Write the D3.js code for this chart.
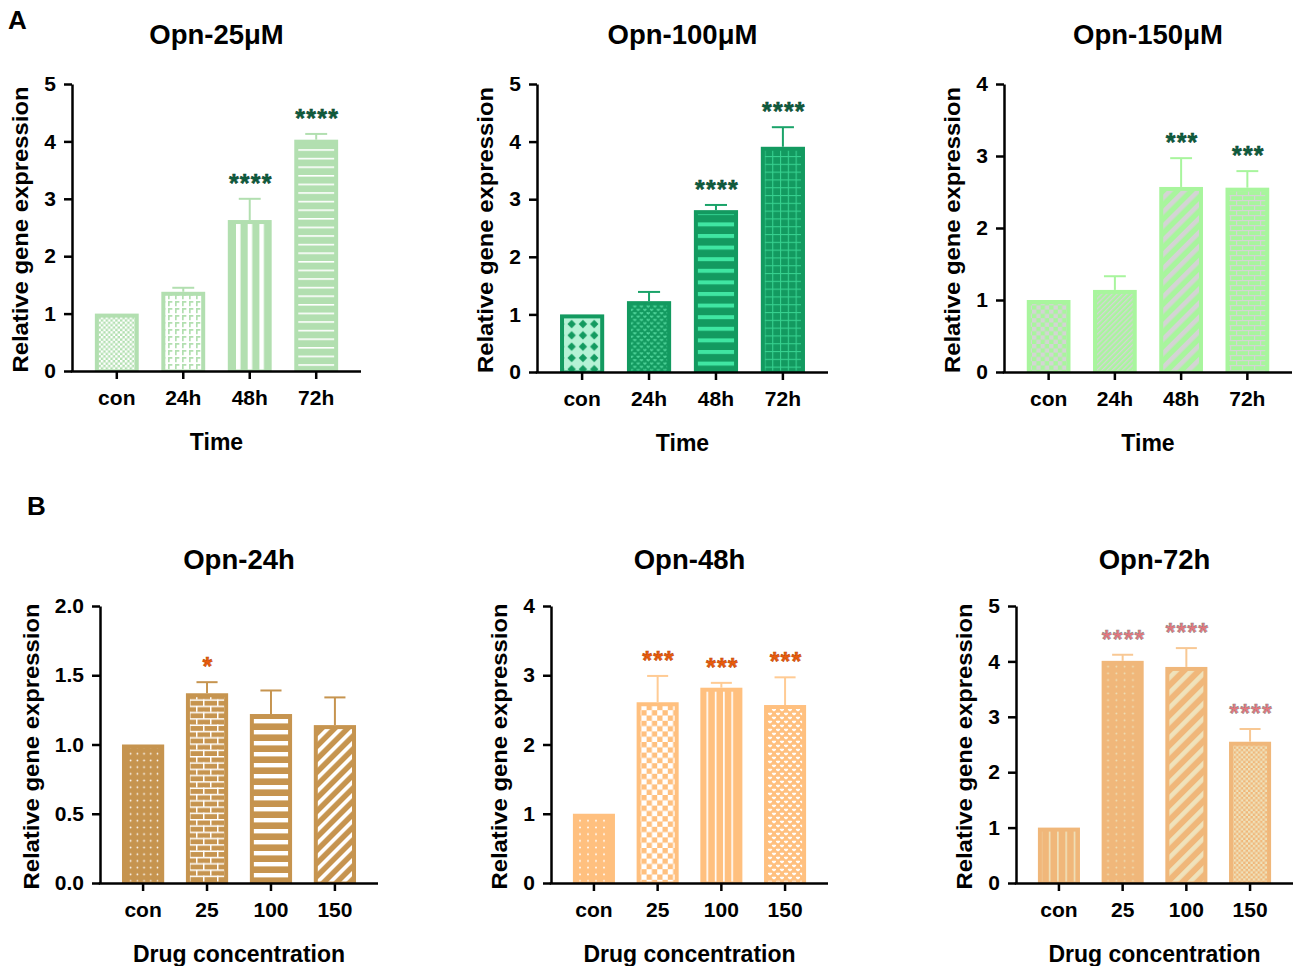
<!DOCTYPE html>
<html>
<head>
<meta charset="utf-8">
<script src="https://cdn.jsdelivr.net/npm/d3@7"></script>
<style>
  body { margin: 0; background: #fff; }
  text { font-family: "Liberation Sans", Arial, sans-serif; font-weight: bold; }
</style>
</head>
<body>
<svg id="fig" width="1296" height="966"></svg>
<script>
// ---- data -------------------------------------------------------------
const timeCats = ["con", "24h", "48h", "72h"];
const doseCats = ["con", "25", "100", "150"];

// Row A: time course at fixed dose
const opn25Mean  = [1.00, 1.38, 2.63, 4.03];
const opn25Sd    = [0, 0.07, 0.37, 0.10];
const opn25Sig   = ["", "", "****", "****"];

const opn100Mean = [1.00, 1.23, 2.81, 3.91];
const opn100Sd   = [0, 0.16, 0.09, 0.34];
const opn100Sig  = ["", "", "****", "****"];

const opn150Mean = [1.00, 1.14, 2.57, 2.56];
const opn150Sd   = [0, 0.19, 0.40, 0.23];
const opn150Sig  = ["", "", "***", "***"];

// Row B: dose response at fixed time
const opn24Mean  = [1.00, 1.37, 1.22, 1.14];
const opn24Sd    = [0, 0.08, 0.17, 0.20];
const opn24Sig   = ["", "*", "", ""];

const opn48Mean  = [1.00, 2.61, 2.82, 2.57];
const opn48Sd    = [0, 0.38, 0.07, 0.40];
const opn48Sig   = ["", "***", "***", "***"];

const opn72Mean  = [1.00, 4.01, 3.90, 2.55];
const opn72Sd    = [0, 0.11, 0.34, 0.23];
const opn72Sig   = ["", "****", "****", "****"];

const ticks5   = [0, 1, 2, 3, 4, 5];
const ticks4   = [0, 1, 2, 3, 4];
const ticks2   = [0, 0.5, 1.0, 1.5, 2.0];

const panelTitles = ["Opn-25μM", "Opn-100μM", "Opn-150μM", "Opn-24h", "Opn-48h", "Opn-72h"];
const yTitle = "Relative gene expression";
const xTitleTime = "Time";
const xTitleDose = "Drug concentration";

// ---- panel layout and styling -----------------------------------------
const panels = [
  { title: panelTitles[0], cats: timeCats, mean: opn25Mean, sd: opn25Sd, sig: opn25Sig,
    ticks: ticks5, fmt: d3.format("d"), xTitle: xTitleTime,
    x0: 72, x1: 361, yTop: 84, yBot: 371, titleY: 44,
    base: "#b2dfb0", err: "#b2dfb0", star: "#0e5e3e", starStroke: "#0a3f2a",
    pats: [
      { type: "checker", s: 2.4, fg: "#ffffff" },
      { type: "key", p: 7, fg: "#ffffff" },
      { type: "vlines", p: 11.7, t: 4.5, fg: "#ffffff", ox: 2 },
      { type: "hlines", p: 8.6, t: 1.6, fg: "#ffffff", oy: 3 }
    ] },
  { title: panelTitles[1], cats: timeCats, mean: opn100Mean, sd: opn100Sd, sig: opn100Sig,
    ticks: ticks5, fmt: d3.format("d"), xTitle: xTitleTime,
    x0: 537, x1: 828, yTop: 84, yBot: 372, titleY: 44,
    base: "#139a60", err: "#1aa369", star: "#0e5e3e", starStroke: "#0a3f2a",
    pats: [
      { type: "diamond", g: 11.3, s: 4.2, bg: "#b6f2d6", fg: "#139a60" },
      { type: "heart", p: 6.7, fg: "#4fd49a" },
      { type: "hlines", p: 11.6, t: 4, fg: "#3fe6a2", oy: 2 },
      { type: "grid", p: 7.8, t: 1.1, fg: "#36d08f" }
    ] },
  { title: panelTitles[2], cats: timeCats, mean: opn150Mean, sd: opn150Sd, sig: opn150Sig,
    ticks: ticks4, fmt: d3.format("d"), xTitle: xTitleTime,
    x0: 1004, x1: 1292, yTop: 84, yBot: 372, titleY: 44,
    base: "#a8f59d", err: "#a8f59d", star: "#0e5e3e", starStroke: "#0a3f2a",
    pats: [
      { type: "checker", s: 4.3, fg: "#d4d4d4" },
      { type: "diag", p: 3.6, t: 1.3, fg: "#d4d4d4" },
      { type: "diag", p: 10, t: 4.6, fg: "#d4d4d4" },
      { type: "brick", w: 12, h: 5, t: 1.2, fg: "#d4d4d4" }
    ] },
  { title: panelTitles[3], cats: doseCats, mean: opn24Mean, sd: opn24Sd, sig: opn24Sig,
    ticks: ticks2, fmt: d3.format(".1f"), xTitle: xTitleDose,
    x0: 100, x1: 378, yTop: 606, yBot: 883, titleY: 569,
    base: "#c6944f", err: "#c6944f", star: "#ea5b0c", starStroke: "#b84708",
    pats: [
      { type: "dots", px: 6.7, py: 6.7, r: 0.85, fg: "#ffffff" },
      { type: "brick", w: 14, h: 6.3, t: 1.5, fg: "#ffffff" },
      { type: "hlines", p: 11, t: 4.4, fg: "#ffffff", oy: 4 },
      { type: "diag", p: 9.2, t: 3.8, fg: "#ffffff" }
    ] },
  { title: panelTitles[4], cats: doseCats, mean: opn48Mean, sd: opn48Sd, sig: opn48Sig,
    ticks: ticks4, fmt: d3.format("d"), xTitle: xTitleDose,
    x0: 551, x1: 828, yTop: 606, yBot: 883, titleY: 569,
    base: "#ffc07f", err: "#ffcb94", star: "#ea5b0c", starStroke: "#b84708",
    pats: [
      { type: "dots", px: 8, py: 6.7, r: 0.95, fg: "#ffffff" },
      { type: "checker", s: 5.3, fg: "#ffffff" },
      { type: "vlines", p: 8.3, t: 1.6, fg: "#ffffff", ox: 1 },
      { type: "heart", p: 8, fg: "#ffffff" }
    ] },
  { title: panelTitles[5], cats: doseCats, mean: opn72Mean, sd: opn72Sd, sig: opn72Sig,
    ticks: ticks5, fmt: d3.format("d"), xTitle: xTitleDose,
    x0: 1016, x1: 1293, yTop: 606, yBot: 883, titleY: 569,
    base: "#f0b77a", err: "#f8c894", star: "#e8757c", starStroke: "#8a8a8a",
    pats: [
      { type: "vlines", p: 8.3, t: 1.6, fg: "#efe2bb", ox: 3 },
      { type: "dots", px: 8.3, py: 6.7, r: 0.9, fg: "#efe2bb" },
      { type: "diag", p: 10.6, t: 4.6, fg: "#efe2bb" },
      { type: "checker", s: 2.4, fg: "#efe2bb" }
    ] }
];

// ---- fill patterns ----------------------------------------------------
const svg = d3.select("#fig");
const defs = svg.append("defs");

function makePattern(id, spec, base) {
  const p = defs.append("pattern").attr("id", id).attr("patternUnits", "userSpaceOnUse");
  const bg = (w, h, c) => p.append("rect").attr("width", w).attr("height", h).attr("fill", c);
  switch (spec.type) {
    case "checker": {
      const s = spec.s;
      p.attr("width", 2 * s).attr("height", 2 * s);
      bg(2 * s, 2 * s, base);
      p.append("rect").attr("width", s).attr("height", s).attr("fill", spec.fg);
      p.append("rect").attr("x", s).attr("y", s).attr("width", s).attr("height", s).attr("fill", spec.fg);
      break;
    }
    case "hlines": {
      p.attr("width", 10).attr("height", spec.p).attr("y", spec.oy || 0);
      bg(10, spec.p, base);
      p.append("rect").attr("width", 10).attr("height", spec.t).attr("fill", spec.fg);
      break;
    }
    case "vlines": {
      p.attr("width", spec.p).attr("height", 10).attr("x", spec.ox || 0);
      bg(spec.p, 10, base);
      p.append("rect").attr("width", spec.t).attr("height", 10).attr("fill", spec.fg);
      break;
    }
    case "diag": {
      p.attr("width", 10).attr("height", spec.p).attr("patternTransform", "rotate(-45)");
      bg(10, spec.p, base);
      p.append("rect").attr("width", 10).attr("height", spec.t).attr("fill", spec.fg);
      break;
    }
    case "grid": {
      p.attr("width", spec.p).attr("height", spec.p);
      bg(spec.p, spec.p, base);
      p.append("rect").attr("width", spec.p).attr("height", spec.t).attr("fill", spec.fg);
      p.append("rect").attr("width", spec.t).attr("height", spec.p).attr("fill", spec.fg);
      break;
    }
    case "dots": {
      p.attr("width", spec.px).attr("height", spec.py);
      bg(spec.px, spec.py, base);
      p.append("circle").attr("cx", spec.px / 2).attr("cy", spec.py / 2).attr("r", spec.r).attr("fill", spec.fg);
      break;
    }
    case "brick": {
      const w = spec.w, h = spec.h, t = spec.t;
      p.attr("width", w).attr("height", 2 * h);
      bg(w, 2 * h, base);
      p.append("rect").attr("width", w).attr("height", t).attr("fill", spec.fg);
      p.append("rect").attr("y", h).attr("width", w).attr("height", t).attr("fill", spec.fg);
      p.append("rect").attr("x", 0).attr("y", 0).attr("width", t).attr("height", h).attr("fill", spec.fg);
      p.append("rect").attr("x", w / 2).attr("y", h).attr("width", t).attr("height", h).attr("fill", spec.fg);
      break;
    }
    case "diamond": {
      // square grid of diamonds on a light lattice
      const g = spec.g, s = spec.s, c = g / 2;
      p.attr("width", g).attr("height", g).attr("x", 1).attr("y", 2);
      bg(g, g, spec.bg);
      p.append("path")
        .attr("d", `M${c},${c - s} L${c + s},${c} L${c},${c + s} L${c - s},${c} Z`)
        .attr("fill", spec.fg);
      break;
    }
    case "heart": {
      const q = spec.p;
      p.attr("width", q).attr("height", q);
      bg(q, q, base);
      const heart = (cx, cy) => {
        const r = q * 0.13;
        return `M${cx},${cy + q * 0.2} L${cx - 2 * r},${cy} A${r},${r} 0 0 1 ${cx},${cy - r * 0.6}` +
               ` A${r},${r} 0 0 1 ${cx + 2 * r},${cy} Z`;
      };
      p.append("path").attr("d", heart(q * 0.25, q * 0.25)).attr("fill", spec.fg);
      p.append("path").attr("d", heart(q * 0.75, q * 0.75)).attr("fill", spec.fg);
      break;
    }
    case "key": {
      const q = spec.p;
      p.attr("width", q).attr("height", q);
      bg(q, q, spec.fg);
      p.append("path")
        .attr("d", `M0,0 h${q * 0.62} v${q * 0.24} h${-q * 0.38} v${q * 0.5} h${-q * 0.24} Z`)
        .attr("fill", base);
      break;
    }
  }
}

// ---- draw -------------------------------------------------------------
panels.forEach((pn, pi) => {
  const g = svg.append("g");
  const width = pn.x1 - pn.x0;
  const step = width * 0.23;
  const firstC = pn.x0 + width * 0.155;

  const x = d3.scaleBand()
    .domain(pn.cats)
    .range([firstC - step / 2, firstC - step / 2 + 4 * step])
    .paddingInner(0.34)
    .paddingOuter(0.17);
  const y = d3.scaleLinear()
    .domain([0, d3.max(pn.ticks)])
    .range([pn.yBot, pn.yTop]);

  pn.pats.forEach((spec, i) => makePattern(`pat-${pi}-${i}`, spec, pn.base));

  const rows = pn.cats.map((c, i) => ({ c, i, m: pn.mean[i], s: pn.sd[i], sig: pn.sig[i] }));
  const bw = x.bandwidth();
  const inset = 4;

  // bars: solid frame plus patterned interior
  g.selectAll("rect.bar").data(rows).join("rect")
    .attr("class", "bar")
    .attr("x", d => x(d.c))
    .attr("y", d => y(d.m))
    .attr("width", bw)
    .attr("height", d => y(0) - y(d.m))
    .attr("fill", pn.base);
  g.selectAll("rect.fillp").data(rows).join("rect")
    .attr("class", "fillp")
    .attr("x", d => x(d.c) + inset)
    .attr("y", d => y(d.m) + inset)
    .attr("width", bw - 2 * inset)
    .attr("height", d => Math.max(0, y(0) - y(d.m) - inset - 1.5))
    .attr("fill", d => `url(#pat-${pi}-${d.i})`);

  // error bars (upper whisker only)
  const eb = rows.filter(d => d.s > 0);
  g.selectAll("line.ev").data(eb).join("line")
    .attr("x1", d => x(d.c) + bw / 2).attr("x2", d => x(d.c) + bw / 2)
    .attr("y1", d => y(d.m)).attr("y2", d => y(d.m + d.s))
    .attr("stroke", pn.err).attr("stroke-width", 2);
  g.selectAll("line.ec").data(eb).join("line")
    .attr("x1", d => x(d.c) + bw / 4).attr("x2", d => x(d.c) + 3 * bw / 4)
    .attr("y1", d => y(d.m + d.s)).attr("y2", d => y(d.m + d.s))
    .attr("stroke", pn.err).attr("stroke-width", 2);

  // significance stars
  g.selectAll("text.sig").data(rows.filter(d => d.sig)).join("text")
    .attr("x", d => x(d.c) + bw / 2 + 1)
    .attr("y", d => y(d.m + d.s) - 21 + 14)
    .attr("text-anchor", "middle")
    .attr("font-size", 25)
    .attr("letter-spacing", 1.2)
    .attr("fill", pn.star)
    .attr("stroke", pn.starStroke)
    .attr("stroke-width", 0.5)
    .text(d => d.sig);

  // axes
  const yAx = g.append("g")
    .attr("transform", `translate(${pn.x0},0)`)
    .call(d3.axisLeft(y).tickValues(pn.ticks).tickFormat(pn.fmt)
      .tickSize(8).tickPadding(8).tickSizeOuter(0));
  const xAx = g.append("g")
    .attr("transform", `translate(0,${pn.yBot})`)
    .call(d3.axisBottom(x).tickSize(8).tickPadding(11).tickSizeOuter(0));
  xAx.select(".domain").remove();
  g.append("line")
    .attr("x1", pn.x0 - 1.25).attr("x2", pn.x1)
    .attr("y1", pn.yBot + 0.5).attr("y2", pn.yBot + 0.5)
    .attr("stroke", "#000").attr("stroke-width", 2.5);
  [yAx, xAx].forEach(ax => {
    ax.selectAll("path, line").attr("stroke", "#000").attr("stroke-width", 2.5);
    ax.selectAll("text").attr("font-size", 21).attr("fill", "#000")
      .style("font-family", '"Liberation Sans", Arial, sans-serif').style("font-weight", "bold");
  });

  // titles
  g.append("text")
    .attr("x", (pn.x0 + pn.x1) / 2).attr("y", pn.titleY)
    .attr("text-anchor", "middle").attr("font-size", 27.5)
    .text(pn.title);
  g.append("text")
    .attr("x", (pn.x0 + pn.x1) / 2).attr("y", pn.yBot + 79)
    .attr("text-anchor", "middle").attr("font-size", 23)
    .text(pn.xTitle);

  const lb = yAx.node().getBBox();
  const tx = lb.x + pn.x0 - 16;
  const ty = (pn.yTop + pn.yBot) / 2 + 2;
  g.append("text")
    .attr("transform", `translate(${tx},${ty}) rotate(-90)`)
    .attr("text-anchor", "middle")
    .attr("font-size", 22)
    .attr("textLength", 286)
    .attr("lengthAdjust", "spacingAndGlyphs")
    .text(yTitle);
});

// panel letters
svg.append("text").attr("x", 8).attr("y", 29).attr("font-size", 26).text("A");
svg.append("text").attr("x", 27).attr("y", 515).attr("font-size", 26).text("B");
</script>
</body>
</html>
